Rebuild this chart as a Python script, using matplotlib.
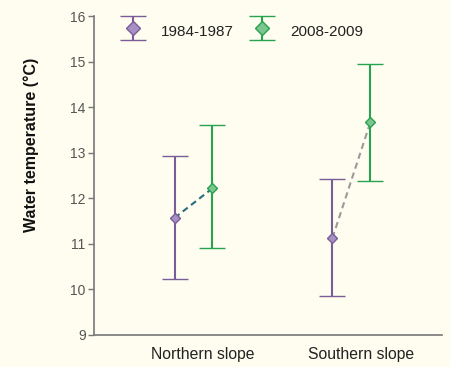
import matplotlib.pyplot as plt
from matplotlib.legend_handler import HandlerErrorbar

plt.rcParams['font.family'] = ['Liberation Sans', 'DejaVu Sans']

# data
slopes = ['Northern slope', 'Southern slope']
periods = ['1984-1987', '2008-2009']
mean_old = [11.57, 11.13]
low_old = [10.22, 9.85]
high_old = [12.93, 12.43]
mean_new = [12.22, 13.67]
low_new = [10.9, 12.38]
high_new = [13.6, 14.95]
yticks = [9, 10, 11, 12, 13, 14, 15, 16]

bg = '#fefdf0'
purple = '#7a5c98'
purple_face = '#a690c4'
green = '#27a24f'
green_face = '#7cc58e'
link_colors = ['#2b6a80', '#9a9a9a']

fig = plt.figure(figsize=(4.5, 3.67), dpi=100, facecolor=bg)
ax = fig.add_axes([0.209, 0.0872, 0.773, 0.869], facecolor=bg)

pos = [1, 2]
off = 0.12
x_old = [p - off for p in pos]
x_new = [p + off for p in pos]

err_old = [[m - lo for m, lo in zip(mean_old, low_old)],
           [hi - m for m, hi in zip(mean_old, high_old)]]
err_new = [[m - lo for m, lo in zip(mean_new, low_new)],
           [hi - m for m, hi in zip(mean_new, high_new)]]

# dashed links between the two means of each slope
for i in range(len(slopes)):
    ax.plot([x_old[i], x_new[i]], [mean_old[i], mean_new[i]],
            ls=(0, (3, 2)), lw=1.5, color=link_colors[i], zorder=2)

e1 = ax.errorbar(x_old, mean_old, yerr=err_old, fmt='D', color=purple,
                 mfc=purple_face, mec=purple, ms=5, mew=1, elinewidth=1.5,
                 capsize=9.5, capthick=1.5, label=periods[0], zorder=3)
e2 = ax.errorbar(x_new, mean_new, yerr=err_new, fmt='D', color=green,
                 mfc=green_face, mec=green, ms=5, mew=1, elinewidth=1.5,
                 capsize=9.5, capthick=1.5, label=periods[1], zorder=3)

ax.set_xlim(0.37, 2.573)
ax.set_ylim(9, 16)
ax.set_yticks(yticks)
ax.set_xticks([p + 0.06 for p in pos])
ax.set_xticklabels(slopes)
ax.tick_params(axis='x', length=0, pad=9, labelsize=11.3, labelcolor='#222222')
ax.tick_params(axis='y', length=4, width=1, color='#777777', pad=2,
               labelsize=10, labelcolor='#555555')
for s in ['top', 'right']:
    ax.spines[s].set_visible(False)
for s in ['left', 'bottom']:
    ax.spines[s].set_color('#777777')
    ax.spines[s].set_linewidth(1.2)

ax.set_ylabel('Water temperature (°C)', fontsize=11.5, fontweight='bold',
              color='#111111')
ax.yaxis.set_label_coords(-0.158, 0.596)

hm = {e1: HandlerErrorbar(yerr_size=0.8), e2: HandlerErrorbar(yerr_size=0.8)}
leg = ax.legend(handles=[e1, e2], handler_map=hm, loc='upper left',
                bbox_to_anchor=(0.029, 1.03), ncol=2, frameon=False,
                fontsize=11, markerscale=1.35, handlelength=2.0,
                handleheight=1.8, columnspacing=0.85, handletextpad=0.83)
for t in leg.get_texts():
    t.set_color('#222222')

fig.savefig('out.png', dpi=100, facecolor=bg)
